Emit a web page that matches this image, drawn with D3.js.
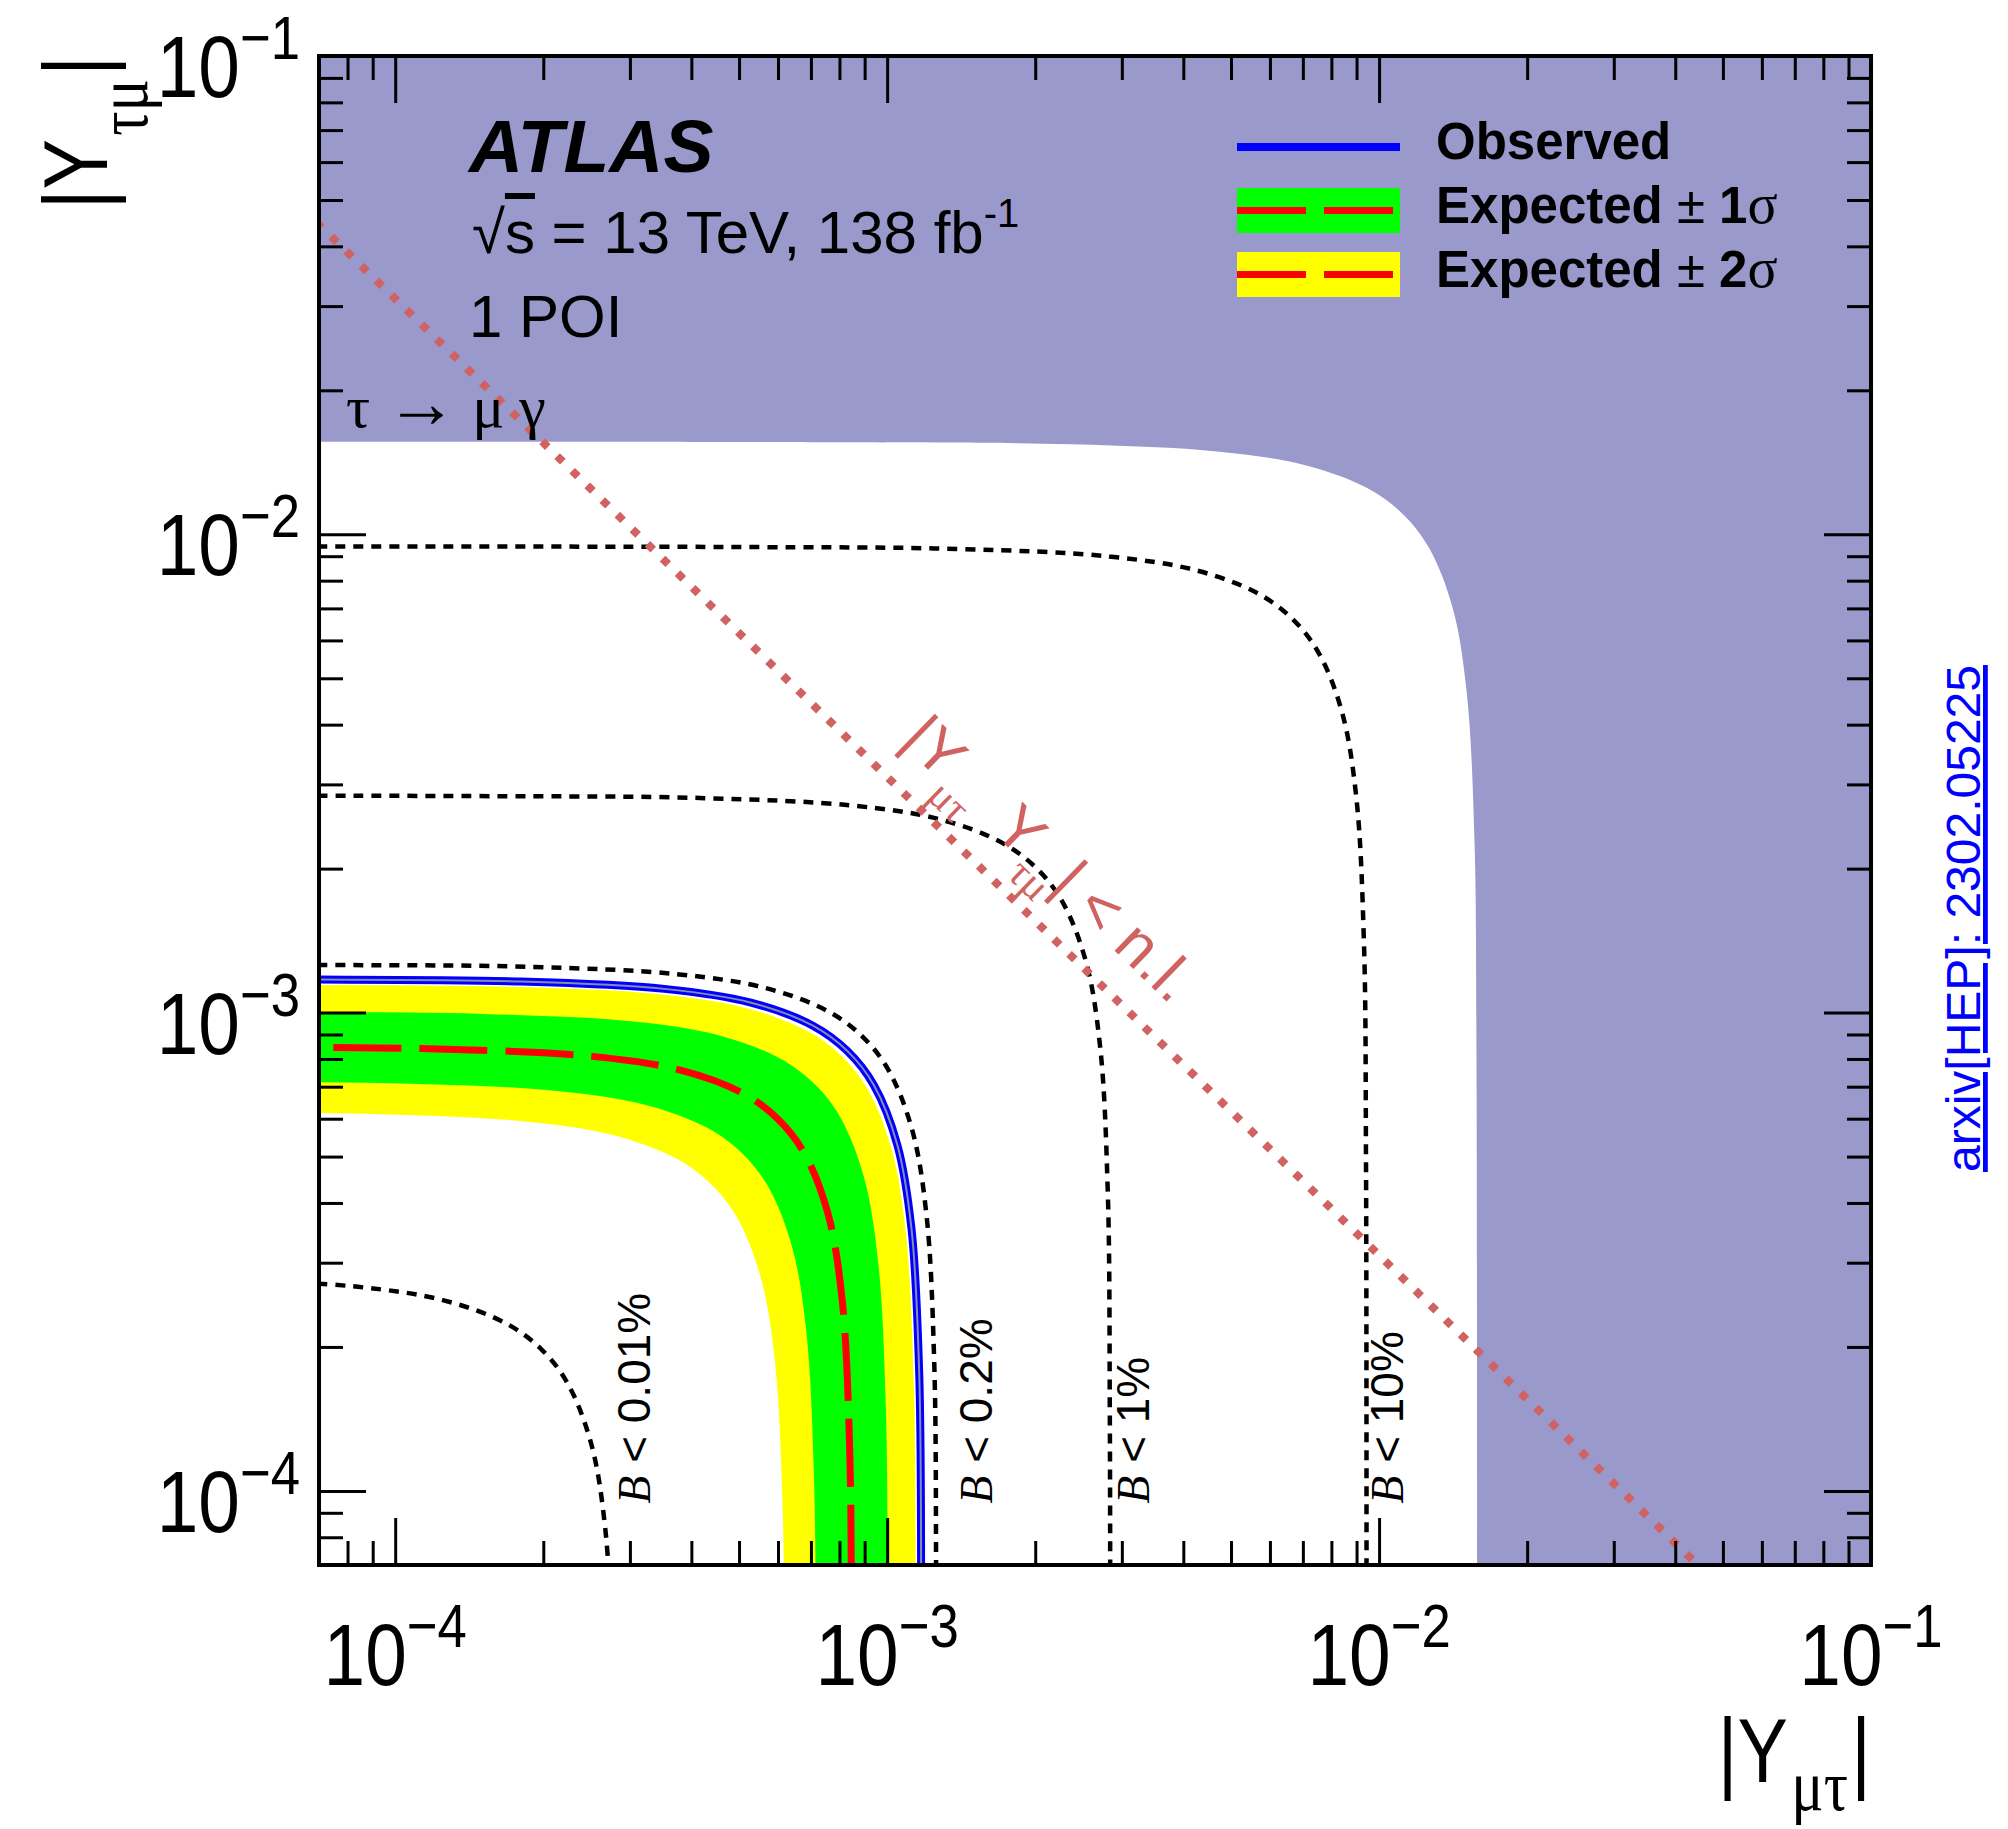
<!DOCTYPE html>
<html>
<head>
<meta charset="utf-8">
<script src="https://cdn.jsdelivr.net/npm/d3@7"></script>
<style>
  body { margin: 0; background: #fff; }
  text { font-family: "Liberation Sans", Arial, Helvetica, sans-serif; }
  .serif { font-family: "Liberation Serif", "Times New Roman", serif; }
</style>
</head>
<body>
<script>
// contours, [|Y_mutau|, |Y_taumu|] pairs
const excludedBoundary = [[1e-5,0.0156],[0.00079,0.01558],[0.00237,0.01542],[0.00474,0.01488],[0.00711,0.01393],[0.00948,0.01248],[0.01117,0.01103],[0.01264,0.00936],[0.01411,0.00702],[0.01507,0.00468],[0.01562,0.00234],[0.01578,0.00078],[0.0158,1e-5]];

const observed = [[1e-5,0.001175],[0.0000588,0.001173],[0.0001763,0.001162],[0.0003525,0.001121],[0.0005288,0.001049],[0.000705,0.00094],[0.0008307,0.0008307],[0.00094,0.000705],[0.001049,0.0005288],[0.001121,0.0003525],[0.001162,0.0001763],[0.001173,0.0000588],[0.001175,1e-5]];
const expected = [[1e-5,0.000848],[0.0000424,0.0008469],[0.0001272,0.0008384],[0.0002544,0.000809],[0.0003816,0.0007573],[0.0005088,0.0006784],[0.0005995,0.0005995],[0.0006784,0.0005088],[0.0007573,0.0003816],[0.000809,0.0002544],[0.0008384,0.0001272],[0.0008469,0.0000424],[0.000848,1e-5]];
const expPlus1 = [[1e-5,0.001005],[0.0000503,0.0010037],[0.0001508,0.0009936],[0.0003015,0.0009588],[0.0004523,0.0008975],[0.000603,0.000804],[0.0007105,0.0007105],[0.000804,0.000603],[0.0008975,0.0004523],[0.0009588,0.0003015],[0.0009936,0.0001508],[0.0010037,0.0000503],[0.001005,1e-5]];
const expMinus1 = [[1e-5,0.000718],[0.0000359,0.0007171],[0.0001077,0.0007099],[0.0002154,0.000685],[0.0003231,0.0006412],[0.0004308,0.0005744],[0.0005076,0.0005076],[0.0005744,0.0004308],[0.0006412,0.0003231],[0.000685,0.0002154],[0.0007099,0.0001077],[0.0007171,0.0000359],[0.000718,1e-5]];
const expPlus2 = [[1e-5,0.001145],[0.0000573,0.0011435],[0.0001718,0.001132],[0.0003435,0.0010923],[0.0005153,0.0010225],[0.000687,0.000916],[0.0008095,0.0008095],[0.000916,0.000687],[0.0010225,0.0005153],[0.0010923,0.0003435],[0.001132,0.0001718],[0.0011435,0.0000573],[0.001145,1e-5]];
const expMinus2 = [[1e-5,0.00062],[0.000031,0.0006192],[0.000093,0.000613],[0.000186,0.0005915],[0.000279,0.0005537],[0.000372,0.000496],[0.0004383,0.0004383],[0.000496,0.000372],[0.0005537,0.000279],[0.0005915,0.000186],[0.000613,0.000093],[0.0006192,0.000031],[0.00062,1e-5]];

// branching ratio iso-contours
const br001 = [[1e-5,0.00028],[0.000014,0.0002796],[0.000042,0.0002768],[0.000084,0.0002671],[0.000126,0.00025],[0.000168,0.000224],[0.000198,0.000198],[0.000224,0.000168],[0.00025,0.000126],[0.0002671,0.000084],[0.0002768,0.000042],[0.0002796,0.000014],[0.00028,1e-5]];
const br02 = [[1e-5,0.00126],[0.000063,0.001258],[0.000189,0.001246],[0.000378,0.001202],[0.000567,0.001125],[0.000756,0.001008],[0.000891,0.000891],[0.001008,0.000756],[0.001125,0.000567],[0.001202,0.000378],[0.001246,0.000189],[0.001258,0.000063],[0.00126,1e-5]];
const br1 = [[1e-5,0.00284],[0.000142,0.002836],[0.000426,0.002808],[0.000852,0.002709],[0.001278,0.002536],[0.001704,0.002272],[0.002008,0.002008],[0.002272,0.001704],[0.002536,0.001278],[0.002709,0.000852],[0.002808,0.000426],[0.002836,0.000142],[0.00284,1e-5]];
const br10 = [[1e-5,0.00942],[0.000471,0.009408],[0.001413,0.009314],[0.002826,0.008987],[0.004239,0.008412],[0.005652,0.007536],[0.00666,0.00666],[0.007536,0.005652],[0.008412,0.004239],[0.008987,0.002826],[0.009314,0.001413],[0.009408,0.000471],[0.00942,1e-5]];
const brLabels = ['0.01%', '0.2%', '1%', '10%'];

// naturalness limit |Y_mutau Y_taumu| ~ 3.1e-6
const naturalness = [[6e-5, 0.0518], [0.08, 3.89e-5]];

const tickValues = [1e-4, 1e-3, 1e-2, 1e-1];
const tickExponents = ['\u22124', '\u22123', '\u22122', '\u22121'];
const legendLabels = ['Observed', 'Expected', 'Expected'];
const legendSigmas = ['', '1', '2'];

const W = 2008, H = 1829;
const M = { left: 319, right: 1871, top: 56, bottom: 1565 };

const x = d3.scaleLog().domain([7e-5, 0.1]).range([M.left, M.right]);
const y = d3.scaleLog().domain([7e-5, 0.1]).range([M.bottom, M.top]);

const svg = d3.select('body').append('svg')
    .attr('width', W)
    .attr('height', H);

svg.append('rect').attr('width', W).attr('height', H).attr('fill', '#fff');

svg.append('defs').append('clipPath').attr('id', 'plotclip')
    .append('rect')
    .attr('x', M.left).attr('y', M.top)
    .attr('width', M.right - M.left).attr('height', M.bottom - M.top);

const plot = svg.append('g').attr('clip-path', 'url(#plotclip)');

const curve = d3.line()
    .x(d => x(d[0]))
    .y(d => y(d[1]))
    .curve(d3.curveCatmullRom.alpha(0.5));

const straight = d3.line().x(d => x(d[0])).y(d => y(d[1]));

function band(outer, inner) {
    return curve(outer) + 'L' + curve(inner.slice().reverse()).slice(1) + 'Z';
}

// excluded by tau -> mu gamma
plot.append('path')
    .attr('d', curve(excludedBoundary) +
        `L${x(1)},${y(1e-6)}L${x(1)},${y(1)}L${x(1e-6)},${y(1)}Z`)
    .attr('fill', '#9999cc');

// expected bands
plot.append('path').attr('d', band(expPlus2, expMinus2)).attr('fill', '#ffff00');
plot.append('path').attr('d', band(expPlus1, expMinus1)).attr('fill', '#00ff00');

plot.append('path')
    .attr('d', curve(expected))
    .attr('fill', 'none')
    .attr('stroke', '#ff0000')
    .attr('stroke-width', 7)
    .attr('stroke-dasharray', '68,18');

plot.append('path')
    .attr('d', curve(observed))
    .attr('fill', 'none')
    .attr('stroke', '#0000ff')
    .attr('stroke-width', 8);
plot.append('path')
    .attr('d', curve(observed))
    .attr('fill', 'none')
    .attr('stroke', '#8a8ab0')
    .attr('stroke-width', 2);

// BR contours
[br001, br02, br1, br10].forEach(c => {
    plot.append('path')
        .attr('d', curve(c))
        .attr('fill', 'none')
        .attr('stroke', '#000')
        .attr('stroke-width', 4.5)
        .attr('stroke-dasharray', '10,8');
});

plot.append('path')
    .attr('d', straight(naturalness))
    .attr('fill', 'none')
    .attr('stroke', '#d06262')
    .attr('stroke-width', 8)
    .attr('stroke-dasharray', '8,13');

// BR labels (rotated)
const brLabelX = [3.3e-4, 1.63e-3, 3.4e-3, 1.12e-2];
brLabels.forEach((lab, i) => {
    const t = svg.append('text')
        .attr('transform', `translate(${x(brLabelX[i])},${y(9.4e-5)}) rotate(-90)`)
        .attr('font-size', 46);
    t.append('tspan').attr('class', 'serif').attr('font-style', 'italic').text('B');
    t.append('tspan').text(' < ' + lab);
});

// naturalness label along the line
const p0 = naturalness[0], p1 = naturalness[1];
const ang = Math.atan2(y(p1[1]) - y(p0[1]), x(p1[0]) - x(p0[0])) * 180 / Math.PI;
const nl = svg.append('text')
    .attr('transform', `translate(${x(1.06e-3)},${y(3.68e-3)}) rotate(${ang})`)
    .attr('fill', '#d06262')
    .attr('font-size', 62);
nl.append('tspan').text('|Y');
nl.append('tspan').attr('class', 'serif').attr('font-size', 42).attr('dy', 22).text('\u03bc\u03c4');
nl.append('tspan').attr('dy', -22).text('\u2002Y');
nl.append('tspan').attr('class', 'serif').attr('font-size', 42).attr('dy', 22).text('\u03c4\u03bc');
nl.append('tspan').attr('dy', -22).text('| < n.l.');

// ticks
const majorTicks = tickValues;
const minorTicks = x.ticks().filter(v => !majorTicks.some(m => Math.abs(v / m - 1) < 1e-6));

function drawTicks(axis, transform) {
    const g = svg.append('g').attr('transform', transform).call(axis);
    g.select('.domain').remove();
    g.selectAll('.tick line').attr('stroke', '#000').attr('stroke-width', 3);
    g.selectAll('.tick text').remove();
}

[[majorTicks, 47], [minorTicks, 24]].forEach(([vals, len]) => {
    drawTicks(d3.axisBottom(x).tickValues(vals).tickSize(-len).tickSizeOuter(0), `translate(0,${M.bottom})`);
    drawTicks(d3.axisTop(x).tickValues(vals).tickSize(-len).tickSizeOuter(0), `translate(0,${M.top})`);
    drawTicks(d3.axisLeft(y).tickValues(vals).tickSize(-len).tickSizeOuter(0), `translate(${M.left},0)`);
    drawTicks(d3.axisRight(y).tickValues(vals).tickSize(-len).tickSizeOuter(0), `translate(${M.right},0)`);
});

svg.append('rect')
    .attr('x', M.left).attr('y', M.top)
    .attr('width', M.right - M.left).attr('height', M.bottom - M.top)
    .attr('fill', 'none')
    .attr('stroke', '#000')
    .attr('stroke-width', 4);

// tick labels
tickValues.forEach((v, i) => {
    const tx = svg.append('text')
        .attr('transform', `translate(${x(v)},1685) scale(0.85,1)`)
        .attr('text-anchor', 'middle')
        .attr('font-size', 88);
    tx.append('tspan').text('10');
    tx.append('tspan').attr('dy', -38).attr('font-size', 62).text(tickExponents[i]);

    const ty = svg.append('text')
        .attr('transform', `translate(300,${y(v) + 41}) scale(0.85,1)`)
        .attr('text-anchor', 'end')
        .attr('font-size', 88);
    ty.append('tspan').text('10');
    ty.append('tspan').attr('dy', -38).attr('font-size', 62).text(tickExponents[i]);
});

// axis titles
const xt = svg.append('text')
    .attr('transform', `translate(${M.right},1782) scale(0.84,1)`)
    .attr('text-anchor', 'end')
    .attr('font-size', 90);
xt.append('tspan').text('|Y');
xt.append('tspan').attr('class', 'serif').attr('font-size', 72).attr('dy', 28).attr('dx', 4).text('\u03bc\u03c4');
xt.append('tspan').attr('dy', -28).attr('dx', 4).text('|');

const yt = svg.append('text')
    .attr('transform', `translate(107,${M.top}) rotate(-90) scale(0.84,1)`)
    .attr('text-anchor', 'end')
    .attr('font-size', 90);
yt.append('tspan').text('|Y');
yt.append('tspan').attr('class', 'serif').attr('font-size', 72).attr('dy', 40).attr('dx', 4).text('\u03c4\u03bc');
yt.append('tspan').attr('dy', -40).attr('dx', 4).text('|');

// ATLAS labels
svg.append('text')
    .attr('x', 469).attr('y', 172)
    .attr('font-size', 75)
    .attr('font-weight', 'bold')
    .attr('font-style', 'italic')
    .text('ATLAS');

const en = svg.append('text').attr('x', 472).attr('y', 253).attr('font-size', 60);
en.append('tspan').text('\u221a');
en.append('tspan').attr('text-decoration', 'overline').text('s');
en.append('tspan').text(' = 13 TeV, 138 fb');
en.append('tspan').attr('dy', -26).attr('font-size', 40).text('-1');

svg.append('text').attr('x', 469).attr('y', 337).attr('font-size', 60).text('1 POI');

const tmg = svg.append('text')
    .attr('class', 'serif')
    .attr('x', 346).attr('y', 427)
    .attr('font-size', 60);
tmg.append('tspan').text('\u03c4 ');
tmg.append('tspan').attr('font-size', 72).text('\u2192');
tmg.append('tspan').text(' \u03bc \u03b3');

// legend
const lg = svg.append('g');
lg.append('line')
    .attr('x1', 1237).attr('x2', 1400).attr('y1', 147).attr('y2', 147)
    .attr('stroke', '#0000ff').attr('stroke-width', 8);
[['#00ff00', 188], ['#ffff00', 252]].forEach(([col, top]) => {
    lg.append('rect')
        .attr('x', 1237).attr('y', top).attr('width', 163).attr('height', 45)
        .attr('fill', col);
    lg.append('line')
        .attr('x1', 1237).attr('x2', 1393).attr('y1', top + 22.5).attr('y2', top + 22.5)
        .attr('stroke', '#ff0000').attr('stroke-width', 7)
        .attr('stroke-dasharray', '69,18');
});
const legendBaselines = [159, 223, 287];
legendLabels.forEach((lab, i) => {
    const t = lg.append('text')
        .attr('x', 1436).attr('y', legendBaselines[i])
        .attr('font-size', 51)
        .attr('font-weight', 'bold');
    t.append('tspan').text(lab);
    if (legendSigmas[i]) {
        t.append('tspan').attr('font-weight', 'normal').text(' \u00b1 ');
        t.append('tspan').text(legendSigmas[i]);
        t.append('tspan').attr('class', 'serif').attr('font-weight', 'normal').attr('font-size', 56).text('\u03c3');
    }
});

// arXiv reference
svg.append('text')
    .attr('transform', 'translate(1980,1172) rotate(-90)')
    .attr('font-size', 48)
    .attr('fill', '#0000ff')
    .attr('text-decoration', 'underline')
    .text('arxiv[HEP]: 2302.05225');
</script>
</body>
</html>
